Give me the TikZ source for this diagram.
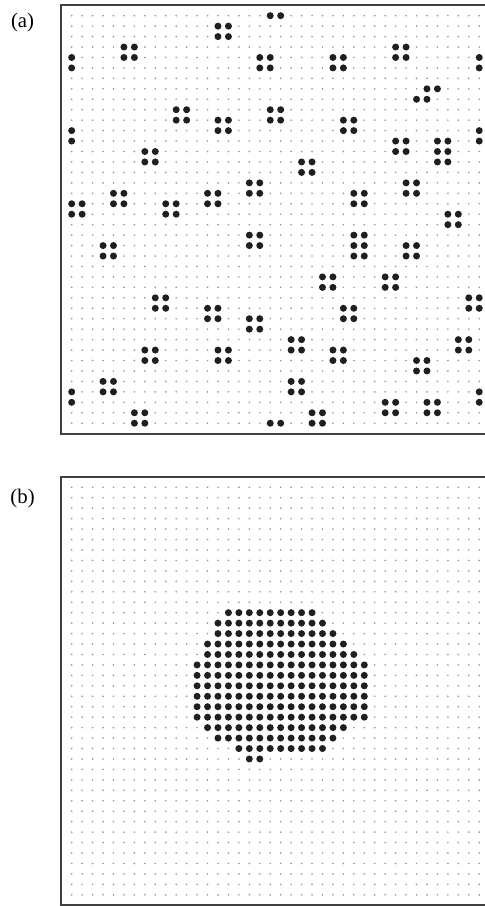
\documentclass[tikz,border=0pt]{standalone}
\usepackage{fontspec}
\setmainfont{Liberation Serif}
\usetikzlibrary{positioning}

\begin{document}
\begin{tikzpicture}[
  x=0.2cm, y=-0.2cm,
  frame/.style={draw=black!75, line width=1.1pt},
  site/.style={fill=black!40},
  atom/.style={fill=black!88},
  tag/.style={font=\fontsize{11.3}{13.5}\selectfont, inner sep=0pt}
  ]
  \useasboundingbox (-6.86,-1.5) rectangle (39.55,85.2);

  % (a) scattered clusters
  \node[tag] (taga) at (-4.7,0.65) {(a)};
  \draw[frame] (-1,-1) rectangle (40,40);
  \foreach \c in {0,...,39}
    \foreach \r in {0,...,39}
      \fill[site] (\c,\r) circle (0.09);
  \foreach \c/\r in {14/1,5/3,18/4,31/3,25/4,10/9,19/9,14/10,26/10,31/12,
                     7/13,22/14,17/16,32/16,4/17,13/17,27/17,0/18,9/18,36/19,
                     17/21,3/22,27/21,32/22,24/25,30/25,8/27,38/27,13/28,26/28,
                     17/29,21/31,37/31,7/32,14/32,25/32,33/33,3/35,21/35,30/37,
                     34/37,6/38,23/38,35/12}
    \foreach \i/\j in {0/0,1/0,0/1,1/1}
      \fill[atom] (\c+\i,\r+\j) circle (0.335);
  \foreach \c/\r in {19/0,20/0,0/4,0/5,39/4,39/5,34/7,35/7,33/8,34/8,
                     0/11,0/12,39/11,39/12,35/14,36/14,27/23,28/23,
                     0/36,0/37,39/36,39/37,19/39,20/39}
    \fill[atom] (\c,\r) circle (0.335);

  % (b) one compact cluster
  \begin{scope}[shift={(0,45.13)}]
    \node[tag] (tagb) at (-4.7,1.12) {(b)};
    \draw[frame] (-1,-1) rectangle (40,40);
    \foreach \c in {0,...,39}
      \foreach \r in {0,...,39}
        \fill[site] (\c,\r) circle (0.09);
    \foreach \r/\a/\b in {12/15/23,13/14/24,14/14/25,15/13/26,16/13/27,
                          17/12/28,18/12/28,19/12/28,20/12/28,21/12/28,22/12/28,
                          23/13/26,24/14/25,25/16/24,26/17/18}
      \foreach \c in {\a,...,\b}
        \fill[atom] (\c,\r) circle (0.335);
  \end{scope}
\end{tikzpicture}
\end{document}
